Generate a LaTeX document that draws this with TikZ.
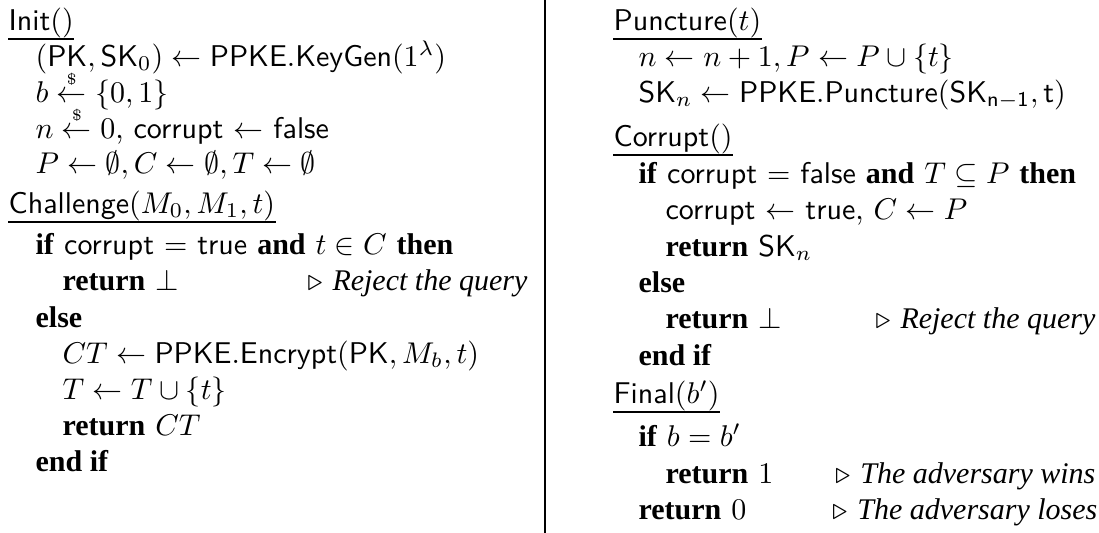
\documentclass[tikz,border=0pt]{standalone}
\usepackage{fontspec}
\usepackage{amsmath}
\newfontfamily\kwserif{Liberation Serif}
\newcommand{\kw}[1]{{\kwserif\bfseries #1}}
\newcommand{\cmt}[1]{$\triangleright$ {\kwserif\itshape #1}}
\newcommand{\proc}[1]{\textsf{#1}}
\newcommand{\sampleto}{\stackrel{\scriptscriptstyle\$}{\leftarrow}}
\tikzset{
  x=0.33333pt, y=-0.33333pt,
  algfont/.style={font=\fontsize{10}{12}\selectfont},
  codeline/.style={algfont, anchor=base west, inner sep=0pt},
  heading/.style={algfont, anchor=base west, inner sep=0pt},
  remark/.style={algfont, anchor=base east, inner sep=0pt},
  hrule/.style={line width=0.4pt},
  divider/.style={line width=0.45pt}
}
\begin{document}
\begin{tikzpicture}
\useasboundingbox (0,0) rectangle (1099,533);

% column separator
\coordinate (dtop) at (545,0);
\coordinate (dbot) at (545,533);
\draw[divider] (dtop) -- (dbot);

% ---------- left column ----------
\node[heading] (init) at (8,30) {\proc{Init}$()$};
\draw[hrule] ([yshift=-3pt]init.base west) -- ([yshift=-3pt]init.base east);
\node[codeline] (i1) at (35,66) {$(\mathsf{PK},\mathsf{SK}_0)\leftarrow\mathsf{PPKE.KeyGen}(1^\lambda)$};
\node[codeline] (i2) at (35,102) {$b\sampleto\{0,1\}$};
\node[codeline] (i3) at (35,138) {$n\sampleto 0$, \textsf{corrupt} $\leftarrow$ \textsf{false}};
\node[codeline] (i4) at (35,173) {$P\leftarrow\emptyset,C\leftarrow\emptyset,T\leftarrow\emptyset$};

\node[heading] (chal) at (8,213) {\proc{Challenge}$(M_0,M_1,t)$};
\draw[hrule] ([yshift=-3pt]chal.base west) -- ([yshift=-3pt]chal.base east);
\node[codeline] (c1) at (35,254) {\kw{if} \textsf{corrupt} $=$ \textsf{true} \kw{and} $t\in C$ \kw{then}};
\node[codeline] (c2) at (62,290) {\kw{return} $\perp$};
\node[remark] (c2r) at (528,290) {\cmt{Reject the query}};
\node[codeline] (c3) at (35,327) {\kw{else}};
\node[codeline] (c4) at (62,363) {$CT\leftarrow\mathsf{PPKE.Encrypt}(\mathsf{PK},M_b,t)$};
\node[codeline] (c5) at (62,399) {$T\leftarrow T\cup\{t\}$};
\node[codeline] (c6) at (62,435) {\kw{return} $CT$};
\node[codeline] (c7) at (35,471) {\kw{end if}};

% ---------- right column ----------
\node[heading] (punc) at (613,30) {\proc{Puncture}$(t)$};
\draw[hrule] ([yshift=-3pt]punc.base west) -- ([yshift=-3pt]punc.base east);
\node[codeline] (p1) at (638,66) {$n\leftarrow n+1,P\leftarrow P\cup\{t\}$};
\node[codeline] (p2) at (638,102) {$\mathsf{SK}_n\leftarrow\mathsf{PPKE.Puncture}(\mathsf{SK_{n-1},t})$};

\node[heading] (corr) at (613,146) {\proc{Corrupt}$()$};
\draw[hrule] ([yshift=-3pt]corr.base west) -- ([yshift=-3pt]corr.base east);
\node[codeline] (k1) at (638,183) {\kw{if} \textsf{corrupt} $=$ \textsf{false} \kw{and} $T\subseteq P$ \kw{then}};
\node[codeline] (k2) at (665,219) {\textsf{corrupt} $\leftarrow$ \textsf{true}, $C\leftarrow P$};
\node[codeline] (k3) at (665,256) {\kw{return} $\mathsf{SK}_n$};
\node[codeline] (k4) at (638,292) {\kw{else}};
\node[codeline] (k5) at (665,328) {\kw{return} $\perp$};
\node[remark] (k5r) at (1096,328) {\cmt{Reject the query}};
\node[codeline] (k6) at (638,365) {\kw{end if}};

\node[heading] (fin) at (613,403) {\proc{Final}$(b')$};
\draw[hrule] ([yshift=-3pt]fin.base west) -- ([yshift=-3pt]fin.base east);
\node[codeline] (f1) at (638,446) {\kw{if} $b=b'$};
\node[codeline] (f2) at (665,483) {\kw{return} $1$};
\node[remark] (f2r) at (1096,483) {\cmt{The adversary wins}};
\node[codeline] (f3) at (638,519) {\kw{return} $0$};
\node[remark] (f3r) at (1098,519) {\cmt{The adversary loses}};
\end{tikzpicture}
\end{document}
